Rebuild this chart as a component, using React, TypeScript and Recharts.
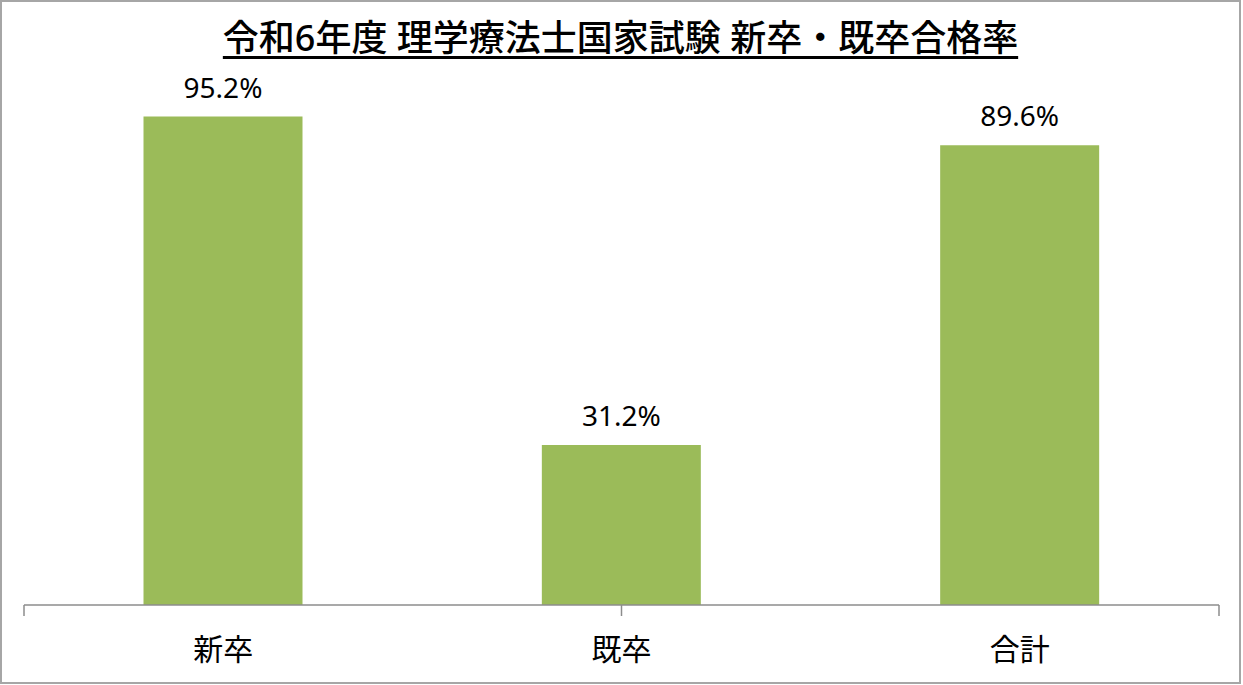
import React from 'react';
import { BarChart, Bar, XAxis, YAxis, LabelList } from 'recharts';

// 令和6年度 理学療法士国家試験 新卒・既卒合格率
const categories = ['新卒', '既卒', '合計'];
const passRates = [95.2, 31.2, 89.6];
const boundaryTicks = [0, 1, 2, 3];

const chartData = categories.map((name, i) => ({ name, rate: passRates[i] }));

const FONT = "'Noto Sans', 'Noto Sans CJK JP', sans-serif";

export default function App() {
  return (
    <div
      style={{
        position: 'absolute',
        left: 0,
        top: 0,
        width: 1241,
        height: 684,
        border: '2px solid #a6a6a6',
        boxSizing: 'border-box',
        background: '#fff',
        fontFamily: FONT,
      }}
    >
      <div
        style={{
          position: 'absolute',
          left: 0,
          right: 0,
          top: 15,
          textAlign: 'center',
          fontSize: 36,
          lineHeight: '42px',
          fontWeight: 500,
          color: '#000',
          textDecoration: 'underline',
          textDecorationThickness: 3,
          textUnderlineOffset: 5,
        }}
      >
        令和6年度 理学療法士国家試験 新卒・既卒合格率
      </div>
      <div style={{ position: 'absolute', left: -2, top: -2 }}>
        <BarChart
          width={1243}
          height={685}
          data={chartData}
          barCategoryGap="30%"
          margin={{ top: 92, right: 24, left: 24, bottom: 19 }}
        >
          {/* boundary tick marks between categories, drawn on a numeric axis */}
          <XAxis
            xAxisId={0}
            type="number"
            domain={[0, 3]}
            ticks={boundaryTicks}
            height={1}
            tickFormatter={() => ''}
            tickSize={11}
            axisLine={{ stroke: '#8c8c8c', strokeWidth: 1.5 }}
            tickLine={{ stroke: '#8c8c8c', strokeWidth: 1.5 }}
          />
          <XAxis
            xAxisId={1}
            dataKey="name"
            height={60}
            axisLine={false}
            tickLine={false}
            tickSize={0}
            tickMargin={33}
            tick={{ fontSize: 30, fill: '#000', fontFamily: FONT }}
          />
          <YAxis hide domain={[0, 100]} />
          <Bar xAxisId={1} dataKey="rate" fill="#9bbb59" isAnimationActive={false}>
            <LabelList
              dataKey="rate"
              position="top"
              offset={19}
              formatter={(v: number) => `${v.toFixed(1)}%`}
              style={{ fontSize: 28, fill: '#000', fontFamily: FONT }}
            />
          </Bar>
        </BarChart>
      </div>
    </div>
  );
}
